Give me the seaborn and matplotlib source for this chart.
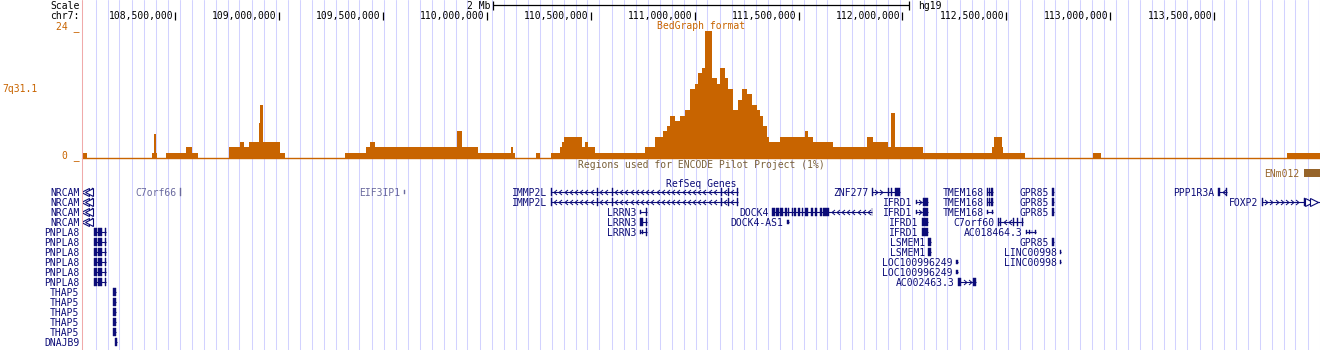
import numpy as np
import pandas as pd
import seaborn as sns
import matplotlib
matplotlib.use("Agg")
import matplotlib.pyplot as plt
from matplotlib.path import Path
from matplotlib.patches import Rectangle
from matplotlib.lines import Line2D

# ------------------------------------------------------------------ data
assembly = "hg19"
chrom = "chr7"
view_start_mb = 108.0526
view_end_mb = 114.0086

tick_pos_mb = [108.5, 109.0, 109.5, 110.0, 110.5, 111.0, 111.5, 112.0, 112.5, 113.0, 113.5]
tick_labels = ["108,500,000", "109,000,000", "109,500,000", "110,000,000", "110,500,000",
               "111,000,000", "111,500,000", "112,000,000", "112,500,000", "113,000,000",
               "113,500,000"]
scale_label = "2 Mb"
scale_len_mb = 2.0

bg_title = "BedGraph format"
bg_track_label = "7q31.1"
bg_max = 24
bg_edges_mb = [108.0526, 108.057, 108.077, 108.389, 108.399, 108.409, 108.413, 108.457,
               108.553, 108.582, 108.611, 108.760, 108.813, 108.832, 108.856, 108.904,
               108.909, 108.923, 109.005, 109.029, 109.318, 109.419, 109.438, 109.462,
               109.857, 109.881, 109.958, 110.117, 110.126, 110.136, 110.237, 110.256,
               110.309, 110.352, 110.362, 110.372, 110.458, 110.473, 110.487, 110.521,
               110.761, 110.809, 110.848, 110.867, 110.882, 110.906, 110.930, 110.954,
               110.978, 111.002, 111.016, 111.035, 111.050, 111.084, 111.108, 111.122,
               111.146, 111.161, 111.185, 111.209, 111.228, 111.252, 111.276, 111.300,
               111.315, 111.329, 111.348, 111.358, 111.411, 111.531, 111.545, 111.569,
               111.666, 111.829, 111.858, 111.930, 111.945, 111.964, 112.099, 112.431,
               112.440, 112.479, 112.484, 112.589, 112.917, 112.955, 113.850, 114.0086]
bg_values = [0, 1, 0, 1, 4.5, 1, 0, 1, 2, 1, 0, 2, 3, 2, 3, 6.5, 10, 3, 1, 0,
             1, 2, 3, 2, 5, 2, 1, 2, 1, 0, 1, 0, 1, 2, 3, 4, 2, 3, 2, 1,
             2, 4, 5, 6, 8, 7, 8, 9, 13, 14, 16, 17, 24, 15, 14, 17, 15, 13, 9, 11,
             13, 12, 10, 9, 8, 6, 4, 3, 4, 5, 4, 3, 2, 4, 3, 2, 8.5, 2, 1, 2,
             4, 2, 1, 0, 1, 0, 1]

encode_title = "Regions used for ENCODE Pilot Project (1%)"
encode_name = "ENm012"
encode_start_mb = 113.931
encode_end_mb = 115.70

genes_title = "RefSeq Genes"
gene_names = ["NRCAM", "C7orf66", "EIF3IP1", "IMMP2L", "ZNF277", "TMEM168", "TMEM168",
              "GPR85", "PPP1R3A", "IFRD1", "IFRD1", "FOXP2", "LRRN3", "LRRN3", "LRRN3",
              "DOCK4", "DOCK4-AS1", "C7orf60", "AC018464.3", "PNPLA8", "LSMEM1",
              "LINC00998", "LOC100996249", "AC002463.3", "THAP5", "DNAJB9"]
gene_rows = [[0, 1, 2, 3], [0], [0], [0, 1], [0], [0, 1], [2],
             [0, 1, 2, 5], [0], [1, 2], [3, 4], [1], [2], [3], [4],
             [2], [3], [3], [4], [4, 5, 6, 7, 8, 9], [5, 6],
             [6, 7], [7, 8], [9], [10, 11, 12, 13, 14], [15]]
gene_starts = [107.900, 108.523, 109.601, 110.309, 111.853, 112.407, 112.407,
               112.719, 113.518, 112.065, 112.094, 113.730, 110.737, 110.737, 110.737,
               111.372, 111.444, 112.460, 112.594, 108.110, 112.124,
               112.758, 112.257, 112.267, 108.202, 108.211]
gene_ends = [108.1031, 108.525, 109.603, 111.207, 111.988, 112.436, 112.436,
             112.729, 113.561, 112.121, 112.121, 114.400, 110.769, 110.769, 110.769,
             111.854, 111.454, 112.580, 112.642, 108.168, 112.136,
             112.762, 112.267, 112.354, 108.216, 108.221]
gene_strands = ["-", "", "", "-", "+", "-", "-",
                "", "-", "+", "+", "+", "+", "+", "+",
                "-", "", "-", "", "", "",
                "", "", "+", "", ""]
gene_noncoding = [False, True, True, False, False, False, False,
                  False, False, False, False, False, False, False, False,
                  False, False, False, False, False, False,
                  False, False, False, False, False]
gene_exons = [
    [(108.1005, 108.1031, "c")],
    [(108.523, 108.525, "c")],
    [(109.601, 109.603, "u")],
    [(110.309, 110.312, "c"), (110.530, 110.533, "c"), (110.602, 110.605, "c"),
     (111.127, 111.130, "c"), (111.161, 111.164, "c"), (111.204, 111.207, "c")],
    [(111.853, 111.856, "c"), (111.930, 111.933, "c"), (111.945, 111.950, "c"),
     (111.964, 111.988, "c")],
    [(112.407, 112.410, "c"), (112.416, 112.419, "c"), (112.425, 112.428, "c"),
     (112.432, 112.436, "c")],
    [(112.407, 112.411, "u"), (112.432, 112.436, "u")],
    [(112.719, 112.729, "c")],
    [(113.518, 113.528, "c"), (113.558, 113.561, "c")],
    [(112.065, 112.068, "u"), (112.099, 112.121, "c")],
    [(112.094, 112.121, "c")],
    [(113.730, 113.733, "c"), (113.934, 113.937, "c")],
    [(110.737, 110.740, "u"), (110.766, 110.769, "c")],
    [(110.737, 110.751, "c"), (110.766, 110.769, "c")],
    [(110.737, 110.740, "u"), (110.745, 110.748, "u"), (110.766, 110.769, "c")],
    [(111.372, 111.387, "c"), (111.391, 111.406, "c"), (111.411, 111.425, "c"),
     (111.435, 111.444, "c"), (111.449, 111.454, "c"), (111.468, 111.473, "c"),
     (111.478, 111.488, "c"), (111.497, 111.507, "c"), (111.517, 111.521, "c"),
     (111.531, 111.545, "c"), (111.560, 111.569, "c"), (111.579, 111.589, "c"),
     (111.603, 111.613, "c"), (111.618, 111.647, "c"), (111.851, 111.854, "c")],
    [(111.444, 111.447, "u"), (111.451, 111.454, "u")],
    [(112.460, 112.463, "c"), (112.468, 112.474, "c"), (112.530, 112.533, "c"),
     (112.549, 112.552, "c"), (112.577, 112.580, "c")],
    [(112.594, 112.598, "u"), (112.607, 112.611, "u"), (112.621, 112.625, "u"),
     (112.637, 112.642, "u")],
    [(108.110, 108.126, "c"), (108.131, 108.150, "c"), (108.165, 108.168, "c")],
    [(112.124, 112.136, "c")],
    [(112.758, 112.762, "u")],
    [(112.257, 112.267, "u")],
    [(112.267, 112.282, "c"), (112.339, 112.354, "c")],
    [(108.204, 108.214, "c")],
    [(108.211, 108.221, "c")],
]

# ------------------------------------------------------------------ style
ORANGE = "#C86400"
NAVY = "#0C0C78"
GREY = "#6A6A9E"
GRID = "#D2D2FF"
PINK = "#F0AAAA"
BROWN = "#96642A"
BROWN_TXT = "#7A6038"
MONO = ["DejaVu Sans Mono", "DejaVu Sans"]

sns.set_theme(style="white")
plt.rcParams["font.family"] = MONO
plt.rcParams["font.size"] = 7

W, H = 1320, 350
X0_PX, X1_PX = 82, 1320
fig = plt.figure(figsize=(W / 100, H / 100), dpi=100, facecolor="white")


def fx(p):
    return p / W


def fy(p):
    return 1 - p / H


mb_per_px = (view_end_mb - view_start_mb) / (X1_PX - X0_PX)


def mb(p):
    return view_start_mb + (p - X0_PX) * mb_per_px


def to_px(m):
    return X0_PX + (m - view_start_mb) / mb_per_px


ax = fig.add_axes([fx(X0_PX), 0, fx(X1_PX - X0_PX), 1])
ax.set_xlim(view_start_mb, view_end_mb)
ax.set_ylim(H, 0)
ax.set_axis_off()

# guide lines
for gx in np.arange(95, X1_PX, 12):
    ax.axvline(mb(gx + 0.5), color=GRID, lw=0.75, zorder=0)
fig.add_artist(Line2D([fx(81.5)] * 2, [0, 1], transform=fig.transFigure, color=PINK, lw=0.75))

# left labels
fig.text(fx(79.5), fy(9.2), "Scale", ha="right", va="baseline", color="black")
fig.text(fx(79.5), fy(19.4), f"{chrom}:", ha="right", va="baseline", color="black")
fig.text(fx(79.5), fy(29.4), f"{bg_max} _", ha="right", va="baseline", color=ORANGE)
fig.text(fx(79.5), fy(157.7), "0 _", ha="right", va="baseline", color=ORANGE)
fig.text(fx(2.0), fy(91.7), bg_track_label, ha="left", va="baseline", color=ORANGE)

# ruler
for p, lab in zip(tick_pos_mb, tick_labels):
    ax.vlines(p, 12, 20, color="black", lw=0.9)
    ax.text(p - 2 * mb_per_px, 19.4, lab, ha="right", va="baseline", color="black")

center = (view_start_mb + view_end_mb) / 2
sx0, sx1 = center - scale_len_mb / 2, center + scale_len_mb / 2
ax.hlines(5, sx0, sx1, color="black", lw=0.9)
ax.vlines([sx0, sx1], 1, 9.5, color="black", lw=0.9)
ax.text(sx0 - 3 * mb_per_px, 8.7, scale_label, ha="right", va="baseline", color="black")
ax.text(sx1 + 9 * mb_per_px, 8.7, assembly, ha="left", va="baseline", color="black")

# bedGraph track
ax_bg = fig.add_axes([fx(X0_PX), fy(158), fx(X1_PX - X0_PX), (158 - 30.5) / H])
edges = list(bg_edges_mb)
bg_df = pd.DataFrame({
    "pos": [(a + b) / 2 for a, b in zip(edges[:-1], edges[1:])],
    "val": bg_values,
})
sns.histplot(data=bg_df, x="pos", weights="val", bins=edges, element="step", fill=True,
             color=ORANGE, alpha=1, linewidth=0, ax=ax_bg)
ax_bg.set_xlim(view_start_mb, view_end_mb)
ax_bg.set_ylim(0, bg_max)
ax_bg.set_axis_off()
ax_bg.axhline(0, color=ORANGE, lw=1.0, clip_on=False)
ax.text(center, 29.4, bg_title, ha="center", va="baseline", color=ORANGE)

# ENCODE regions track
ax.text(center, 167.7, encode_title, ha="center", va="baseline", color=BROWN_TXT)
ax.add_patch(Rectangle((encode_start_mb, 169), encode_end_mb - encode_start_mb, 8,
                       color=BROWN, lw=0))
ax.text(encode_start_mb - 4 * mb_per_px, 176.7, encode_name, ha="right", va="baseline",
        color=BROWN)

# RefSeq genes
ax.text(center, 186.7, genes_title, ha="center", va="baseline", color=NAVY)

chev_l = Path([(0.6, 1), (-0.6, 0), (0.6, -1)], [Path.MOVETO, Path.LINETO, Path.LINETO])
chev_r = Path([(-0.6, 1), (0.6, 0), (-0.6, -1)], [Path.MOVETO, Path.LINETO, Path.LINETO])
CHAR_W = 5.85

for name, rows, s, e, strand, exons, nc in zip(gene_names, gene_rows, gene_starts, gene_ends,
                                              gene_strands, gene_exons, gene_noncoding):
    col = GREY if nc else NAVY
    for r in rows:
        yc = 192.2 + 10 * r
        vs, ve = max(s, view_start_mb), min(e, view_end_mb)
        ax.hlines(yc, vs, ve, color=col, lw=0.8)
        for a, b, kind in exons:
            h = 8 if kind == "c" else 4.5
            ax.add_patch(Rectangle((a, yc - h / 2), max(b - a, 0.9 * mb_per_px), h,
                                   facecolor=col, edgecolor=col, lw=0.3))
        # continuation markers
        lo_px, hi_px = to_px(vs), to_px(ve)
        if s < view_start_mb:
            ax.plot([mb(X0_PX + 2.8), mb(X0_PX + 6.8)], [yc, yc], ls="none", marker="<",
                    ms=5.2, mfc="white", mec=col, mew=0.8)
            lo_px = X0_PX + 9
        if e > view_end_mb:
            ax.plot([mb(X1_PX - 11), mb(X1_PX - 6)], [yc, yc], ls="none", marker=">",
                    ms=5.2, mfc="white", mec=col, mew=0.8)
            hi_px = X1_PX - 14
        # strand chevrons in introns
        if strand:
            ex_px = sorted((to_px(a), to_px(b)) for a, b, _ in exons)
            gaps = []
            cur = lo_px
            for a, b in ex_px:
                if a > cur:
                    gaps.append((cur, min(a, hi_px)))
                cur = max(cur, b)
            if cur < hi_px:
                gaps.append((cur, hi_px))
            xs = []
            for g0, g1 in gaps:
                if g1 - g0 > 6:
                    xs.extend(np.arange(g0 + 3.5, g1 - 2.5, 5.2))
            if xs:
                ax.plot([mb(x) for x in xs], [yc] * len(xs), ls="none",
                        marker=chev_l if strand == "-" else chev_r, ms=3.6,
                        mfc="none", mec=col, mew=0.7)
        # label
        start_px = to_px(vs) if s >= view_start_mb else X0_PX
        if start_px - 3.5 - CHAR_W * len(name) < X0_PX:
            fig.text(fx(79.5), fy(yc + 3.6), name, ha="right", va="baseline", color=col)
        else:
            ax.text(mb(start_px - 3.5), yc + 3.6, name, ha="right", va="baseline", color=col)

fig.savefig("out.png", dpi=100, facecolor="white")
